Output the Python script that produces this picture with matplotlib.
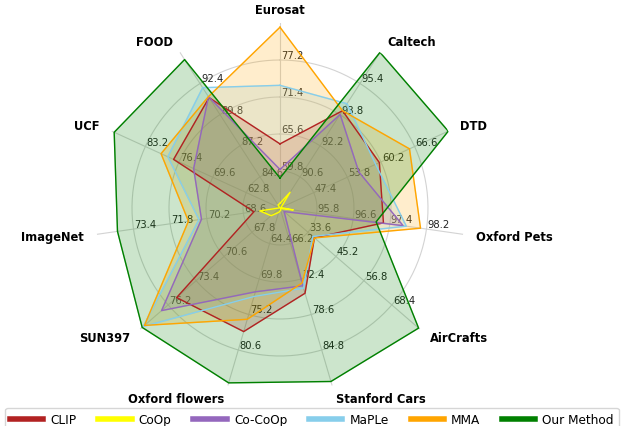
import numpy as np
import matplotlib.pyplot as plt
from matplotlib.lines import Line2D

datasets = ['Eurosat', 'Caltech', 'DTD', 'Oxford Pets', 'AirCrafts', 'Stanford Cars',
            'Oxford flowers', 'SUN397', 'ImageNet', 'UCF', 'FOOD']
# every axis has its own scale: value at the centre and step between rings
axis_min = [54.0, 89.0, 41.0, 95.0, 22.0, 60.0, 59.0, 65.0, 67.0, 56.0, 82.0]
axis_step = [5.8, 1.6, 6.4, 0.8, 11.6, 6.2, 5.4, 2.8, 1.6, 6.8, 2.6]

clip = [64.05, 94.00, 59.90, 97.26, 36.29, 74.89, 77.80, 75.35, 68.14, 77.50, 91.22]
coop = [54.74, 89.81, 41.18, 95.29, 22.30, 60.40, 59.67, 65.89, 67.88, 56.05, 82.26]
cocoop = [60.04, 93.81, 56.00, 97.69, 23.71, 73.59, 71.75, 76.86, 70.43, 73.45, 91.29]
maple = [73.23, 94.36, 59.18, 97.76, 35.61, 74.00, 72.46, 78.70, 70.54, 78.66, 92.05]
mma = [82.34, 94.00, 65.63, 98.07, 36.33, 73.10, 75.93, 78.57, 71.00, 80.03, 91.30]
ours = [58.7, 97.0, 73.0, 97.1, 79.5, 90.3, 85.6, 78.8, 74.1, 89.5, 94.4]

methods = ['CLIP', 'CoOp', 'Co-CoOp', 'MaPLe', 'MMA', 'Our Method']
colors = ['#b22222', '#ffff00', '#9467bd', '#87ceeb', '#ffa500', '#008000']
values = [clip, coop, cocoop, maple, mma, ours]

n = len(datasets)
angles = np.linspace(0, 2 * np.pi, n, endpoint=False)


def scale(vals):
    # map each value onto the shared 0..5 ring scale
    return [(v - lo) / st for v, lo, st in zip(vals, axis_min, axis_step)]


fig = plt.figure(figsize=(6.24, 4.27), dpi=100)
ax = fig.add_axes([0.1522, 0.0773, 0.5930, 0.8665], polar=True)
ax.set_theta_offset(np.pi / 2)
ax.set_theta_direction(-1)
ax.set_ylim(0, 5)
ax.grid(False)
ax.spines['polar'].set_visible(False)
ax.set_xticks([])
ax.set_yticks([])

# rings and spokes
ring = np.linspace(0, 2 * np.pi, 400)
for k in range(1, 5):
    ax.plot(ring, np.full_like(ring, k), color='#d3d3d3', lw=0.8, zorder=0)
for a in angles:
    ax.plot([a, a], [0, 5], color='#d3d3d3', lw=0.8, zorder=0)

# tick labels of each axis
for a, lo, st in zip(angles, axis_min, axis_step):
    for k in range(1, 5):
        ax.annotate(f'{lo + k * st:.1f}', xy=(a, k), xytext=(1, 0),
                    textcoords='offset pixels', ha='left', va='bottom',
                    fontsize=7.2, color='#222222', zorder=0.5)

for name, vals, col in zip(methods, values, colors):
    r = scale(vals)
    th = np.append(angles, angles[0])
    r = r + r[:1]
    ax.fill(th, r, color=col, alpha=0.2, zorder=1)
    ax.plot(th, r, color=col, lw=1, zorder=2)

# dataset names
for a, name in zip(angles, datasets):
    x = np.sin(a)
    if abs(x) < 0.01:
        ha = 'center'
    elif x > 0:
        ha = 'left'
    else:
        ha = 'right'
    ax.text(a, 5.36, name, ha=ha, va='center', fontsize=8.3, fontweight='bold')

handles = [Line2D([0], [0], color=c, lw=4) for c in colors]
fig.legend(handles, methods, loc='upper center', bbox_to_anchor=(0.5, 1 - 403 / 427),
           ncol=6, fontsize=8.7, handlelength=2.75, handletextpad=0.6,
           columnspacing=1.8)

fig.savefig('out.png', dpi=100)
plt.close(fig)
